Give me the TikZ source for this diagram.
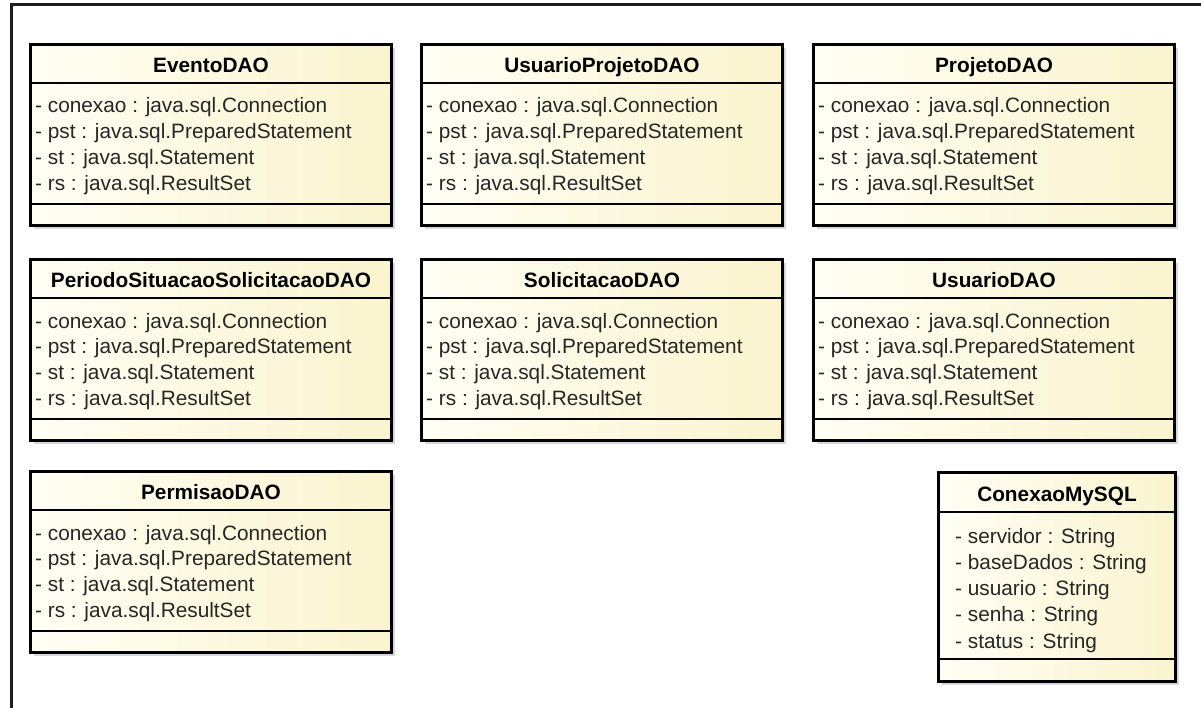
\documentclass[tikz,border=0pt]{standalone}
\usepackage{fontspec}
\setmainfont{Liberation Sans}
\usepackage{tikz}
\definecolor{classleft}{HTML}{FFFEF4}
\definecolor{classright}{HTML}{FAF4CE}
\definecolor{shadowgray}{HTML}{D6D6DE}
\definecolor{framegray}{HTML}{1E1E1E}

\begin{document}
\begin{tikzpicture}[x=1pt,y=-1pt,
    classbox/.style={rectangle,draw=black,line width=3pt,left color=classleft,right color=classright,anchor=north west,inner sep=0pt},
    classshadow/.style={fill=shadowgray,draw=none},
    sepline/.style={line width=1.5pt},
    classtitle/.style={font=\fontsize{20.8}{24}\selectfont\bfseries,anchor=base,inner sep=0pt},
    attr/.style={font=\fontsize{20.8}{24}\selectfont,anchor=base west,inner sep=0pt,text=black!85}]
            \useasboundingbox (0,0) rectangle (1201,708);
            % frame round the sheet
            \coordinate (frametop) at (1201,5);
            \coordinate (framecorner) at (11,5);
            \coordinate (framebottom) at (11,708);
            \draw[framegray,line width=3pt] (frametop) -- (framecorner) -- (framebottom);
            % the six DAO classes
            \foreach \nm/\x/\y/\ttl in {evento/29/43/EventoDAO, usuarioprojeto/420/43/UsuarioProjetoDAO, projeto/812/43/ProjetoDAO, periodo/29/258/PeriodoSituacaoSolicitacaoDAO, solicitacao/420/258/SolicitacaoDAO, usuario/812/258/UsuarioDAO, permisao/29/470/PermisaoDAO} {
                \fill[classshadow] (\x+5,\y+5) rectangle ++(361,181);
                \node[classbox,minimum width=361pt,minimum height=181pt] (\nm) at (\x,\y) {};
                \draw[sepline] ([yshift=-40pt]\nm.north west) -- ([yshift=-40pt]\nm.north east);
                \draw[sepline] ([yshift=-161pt]\nm.north west) -- ([yshift=-161pt]\nm.north east);
                \node[classtitle] (\nm-title) at ([yshift=-29.5pt]\nm.north) {\ttl};
                \foreach \a [count=\i] in {- conexao : java.sql.Connection, - pst : java.sql.PreparedStatement, - st : java.sql.Statement, - rs : java.sql.ResultSet}
                    \node[attr] (\nm-attr\i) at ([xshift=6pt,yshift={-70pt-25.7pt*(\i-1)}]\nm.north west) {\a};
            }
            % the connection class
            \fill[classshadow] (942,476) rectangle ++(237,209);
            \node[classbox,minimum width=237pt,minimum height=209pt] (conexao) at (937,471) {};
            \draw[sepline] ([yshift=-41pt]conexao.north west) -- ([yshift=-41pt]conexao.north east);
            \draw[sepline] ([yshift=-188pt]conexao.north west) -- ([yshift=-188pt]conexao.north east);
            \node[classtitle] (conexao-title) at ([yshift=-30pt]conexao.north) {ConexaoMySQL};
            \foreach \a [count=\i] in {- servidor : String, - baseDados : String, - usuario : String, - senha : String, - status : String}
                \node[attr] (conexao-attr\i) at ([xshift=18pt,yshift={-72pt-26.3pt*(\i-1)}]conexao.north west) {\a};
        \end{tikzpicture}
\end{document}
